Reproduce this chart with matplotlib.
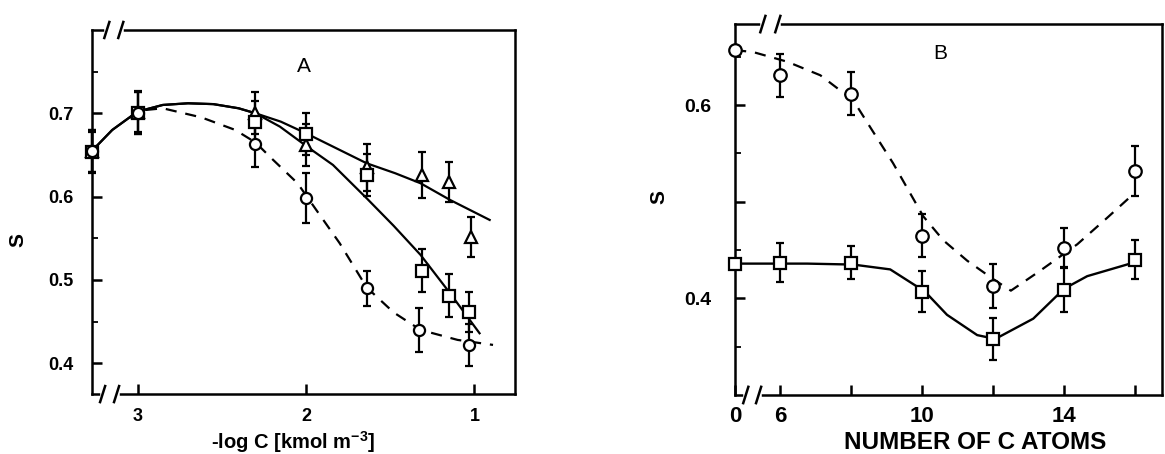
import matplotlib
matplotlib.use("Agg")
from matplotlib import pyplot as plt
from matplotlib.ticker import FixedLocator, FixedFormatter

plt.rcParams['font.family'] = ['Liberation Sans', 'DejaVu Sans']
plt.rcParams['mathtext.default'] = 'regular'

# ---- panel A: S vs -log C ----
a_tri_x = [3.27, 3.0, 2.3, 2.0, 1.64, 1.31, 1.15, 1.02]
a_tri_y = [0.655, 0.702, 0.700, 0.662, 0.635, 0.626, 0.617, 0.551]
a_tri_e = [0.025, 0.025, 0.025, 0.025, 0.028, 0.028, 0.024, 0.024]

a_sq_x = [3.27, 3.0, 2.3, 2.0, 1.64, 1.31, 1.15, 1.03]
a_sq_y = [0.653, 0.700, 0.690, 0.675, 0.626, 0.511, 0.481, 0.461]
a_sq_e = [0.025, 0.025, 0.025, 0.025, 0.025, 0.026, 0.026, 0.024]

a_ci_x = [3.27, 3.0, 2.3, 2.0, 1.64, 1.33, 1.03]
a_ci_y = [0.655, 0.700, 0.663, 0.598, 0.490, 0.440, 0.422]
a_ci_e = [0.025, 0.025, 0.028, 0.030, 0.021, 0.026, 0.025]

# fitted curves
a_top_cx = [3.27, 3.15, 3.0, 2.85, 2.7, 2.55, 2.4, 2.3, 2.15, 2.0, 1.84, 1.64, 1.47, 1.32, 1.145, 0.91]
a_top_cy = [0.655, 0.680, 0.702, 0.710, 0.712, 0.711, 0.706, 0.700, 0.690, 0.676, 0.660, 0.640, 0.628, 0.616, 0.596, 0.572]
a_mid_cx = [3.27, 3.15, 3.0, 2.85, 2.7, 2.55, 2.4, 2.3, 2.155, 1.98, 1.84, 1.64, 1.48, 1.32, 1.145, 0.97]
a_mid_cy = [0.655, 0.680, 0.702, 0.710, 0.712, 0.711, 0.706, 0.700, 0.684, 0.658, 0.638, 0.598, 0.565, 0.530, 0.484, 0.436]
a_dash_cx = [2.95, 2.85, 2.62, 2.42, 2.3, 2.2, 2.05, 1.96, 1.80, 1.64, 1.48, 1.32, 1.10, 0.89]
a_dash_cy = [0.704, 0.706, 0.695, 0.680, 0.665, 0.645, 0.616, 0.590, 0.544, 0.491, 0.461, 0.440, 0.428, 0.422]

# ---- panel B: S vs number of C atoms ----
b_atoms = [0, 6, 8, 10, 12, 14, 16]
b_ci_y = [0.657, 0.631, 0.612, 0.465, 0.413, 0.452, 0.532]
b_ci_e = [0.0, 0.022, 0.022, 0.022, 0.023, 0.021, 0.026]
b_sq_y = [0.436, 0.437, 0.437, 0.407, 0.358, 0.409, 0.440]
b_sq_e = [0.0, 0.020, 0.017, 0.021, 0.022, 0.023, 0.020]

b_dash_cx = [0, 5.24, 6.2, 7.13, 8.06, 8.54, 9.18, 10.03, 10.6, 11.27, 12.0, 12.5, 13.3, 14.37, 15.2, 15.95]
b_dash_cy = [0.657, 0.655, 0.645, 0.631, 0.605, 0.577, 0.540, 0.485, 0.460, 0.439, 0.420, 0.408, 0.428, 0.456, 0.483, 0.508]
b_sol_cx = [0, 6.76, 8.06, 9.1, 10.08, 10.7, 11.55, 12.06, 13.13, 14.0, 14.65, 15.86]
b_sol_cy = [0.436, 0.436, 0.435, 0.430, 0.407, 0.383, 0.362, 0.358, 0.379, 0.410, 0.423, 0.436]

ZERO_POS = 4.73  # where "0" sits on the broken axis of B


def bpos(xs):
    return [ZERO_POS if x == 0 else x for x in xs]


def axis_break(ax, x0, x1, y):
    # white gap + two slanted strokes on a spine
    t = ax.transAxes
    ax.plot([x0, x1], [y, y], color='white', lw=4, transform=t, clip_on=False, zorder=10)
    for xx in (x0, x1):
        ax.plot([xx - 0.006, xx + 0.006], [y - 0.022, y + 0.022], color='black', lw=1.8,
                transform=t, clip_on=False, zorder=11)


def style(ax):
    for s in ax.spines.values():
        s.set_linewidth(1.8)
    ax.tick_params(direction='in', which='major', length=7, width=1.8)
    ax.tick_params(direction='in', which='minor', length=4, width=1.3)


fig = plt.figure(figsize=(11.65, 4.54), dpi=100)

mk = dict(mfc='white', mec='black', mew=1.6, ecolor='black', elinewidth=1.6,
          capsize=3, capthick=1.6, ls='none', zorder=5, clip_on=False)

# panel A
axA = fig.add_axes([0.079, 0.132, 0.363, 0.802])
axA.plot(a_top_cx, a_top_cy, color='black', lw=1.6)
axA.plot(a_mid_cx, a_mid_cy, color='black', lw=1.6)
axA.plot(a_dash_cx, a_dash_cy, color='black', lw=1.6, ls=(0, (5, 4)))
axA.errorbar(a_tri_x, a_tri_y, yerr=a_tri_e, marker='^', ms=9, **mk)
axA.errorbar(a_sq_x, a_sq_y, yerr=a_sq_e, marker='s', ms=8, **mk)
axA.errorbar(a_ci_x, a_ci_y, yerr=a_ci_e, marker='o', ms=8, **mk)
axA.set_xlim(3.27, 0.76)
axA.set_ylim(0.363, 0.80)
axA.xaxis.set_major_locator(FixedLocator([3, 2, 1]))
axA.xaxis.set_major_formatter(FixedFormatter(['3', '2', '1']))
axA.yaxis.set_major_locator(FixedLocator([0.4, 0.5, 0.6, 0.7]))
axA.yaxis.set_major_formatter(FixedFormatter(['0.4', '0.5', '0.6', '0.7']))
axA.yaxis.set_minor_locator(FixedLocator([0.45, 0.55, 0.65, 0.75]))
style(axA)
axA.tick_params(axis='x', pad=10, labelsize=13)
axA.tick_params(axis='y', pad=13, labelsize=13)
for lab in axA.get_xticklabels() + axA.get_yticklabels():
    lab.set_fontweight('bold')
axA.set_xlabel('-log C [kmol m$^{-3}$]', fontsize=14.5, fontweight='bold')
axA.xaxis.set_label_coords(0.475, -0.095)
axA.set_ylabel('S', fontsize=15, fontweight='bold')
axA.yaxis.set_label_coords(-0.152, 0.423)
axA.text(0.5, 0.9, 'A', transform=axA.transAxes, fontsize=15, ha='center', va='center')
axis_break(axA, 0.035, 0.068, 1.0)
axis_break(axA, 0.025, 0.058, 0.0)

# panel B
axB = fig.add_axes([0.631, 0.130, 0.3665, 0.817])
axB.plot(bpos(b_dash_cx), b_dash_cy, color='black', lw=1.6, ls=(0, (5, 4)))
axB.plot(bpos(b_sol_cx), b_sol_cy, color='black', lw=1.7)
axB.errorbar(bpos(b_atoms), b_ci_y, yerr=b_ci_e, marker='o', ms=9, **mk)
axB.errorbar(bpos(b_atoms), b_sq_y, yerr=b_sq_e, marker='s', ms=9, **mk)
axB.set_xlim(ZERO_POS, 16.76)
axB.set_ylim(0.30, 0.684)
axB.xaxis.set_major_locator(FixedLocator([ZERO_POS, 6, 8, 10, 12, 14, 16]))
axB.xaxis.set_major_formatter(FixedFormatter(['0', '6', '', '10', '', '14', '']))
axB.yaxis.set_major_locator(FixedLocator([0.4, 0.5, 0.6]))
axB.yaxis.set_major_formatter(FixedFormatter(['0.4', '', '0.6']))
axB.yaxis.set_minor_locator(FixedLocator([0.35, 0.45, 0.55, 0.65]))
style(axB)
axB.tick_params(axis='x', pad=8, labelsize=16)
axB.tick_params(axis='y', pad=17, labelsize=14)
for lab in axB.get_xticklabels() + axB.get_yticklabels():
    lab.set_fontweight('bold')
axB.set_xlabel('NUMBER OF C ATOMS', fontsize=17.5, fontweight='bold')
axB.xaxis.set_label_coords(0.562, -0.098)
axB.set_ylabel('S', fontsize=15, fontweight='bold')
axB.yaxis.set_label_coords(-0.157, 0.534)
axB.text(0.48, 0.92, 'B', transform=axB.transAxes, fontsize=15, ha='center', va='center')
axis_break(axB, 0.065, 0.1, 1.0)
axis_break(axB, 0.025, 0.055, 0.0)

fig.savefig("out.png", dpi=100)
